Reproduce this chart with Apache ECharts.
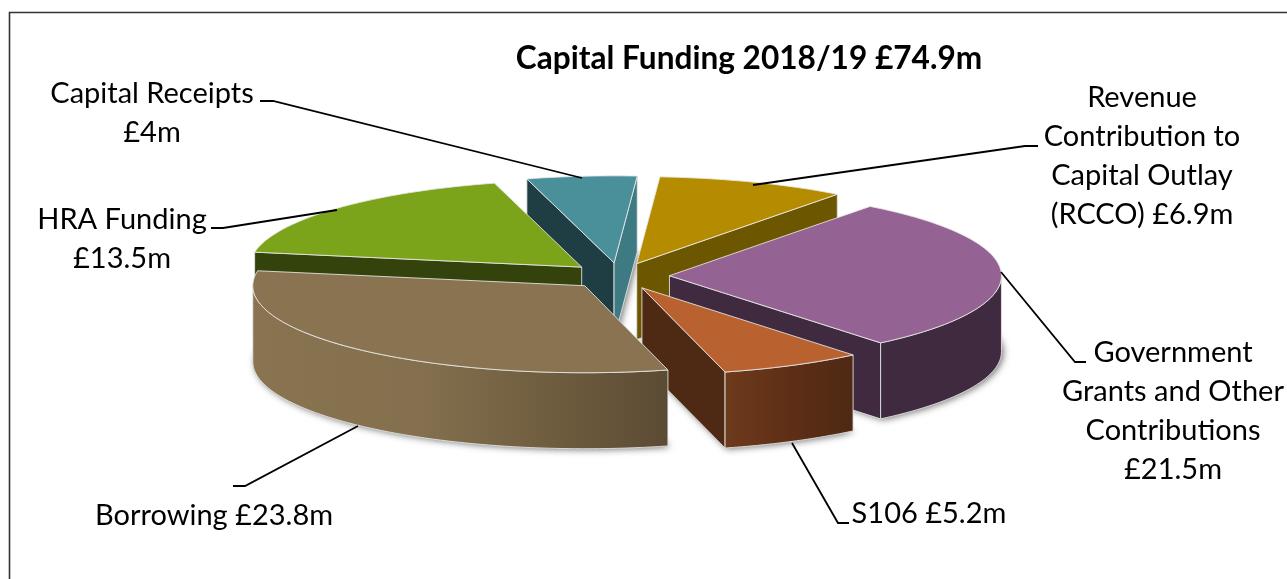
<!DOCTYPE html>
<html>
<head>
<meta charset="utf-8">
<style>html,body{margin:0;padding:0;background:#fff}#chart{width:1287px;height:579px}</style>
<script src="https://cdn.jsdelivr.net/npm/echarts@6/dist/echarts.min.js"></script>
</head>
<body>
<div id="chart"></div>
<script>
// Funding sources, clockwise from the first slice, in £m
const sources = ['RCCO', 'Government', 'S106', 'Borrowing', 'HRA', 'Capital Receipts'];
const amounts = [6.9, 21.5, 5.2, 23.8, 13.5, 4];
const chartTitle = 'Capital Funding 2018/19 £74.9m';
const labelLines = [
  ['Revenue', 'Contribution to', 'Capital Outlay', '(RCCO) £6.9m'],
  ['Government', 'Grants and Other', 'Contributions', '£21.5m'],
  ['S106 £5.2m'],
  ['Borrowing £23.8m'],
  ['HRA Funding', '£13.5m'],
  ['Capital Receipts', '£4m']
];

// Palette: top surface, start-edge wall, end-edge wall, rim gradient
const topColors = ['#B58B00', '#956393', '#B9622F', '#897350', '#7CA41A', '#4A909A'];
const startWall = ['#6D5600', '#402A40', '#4E2913', '#5E4D35', '#34430C', '#1F3E43'];
const endWall = ['#6D5600', '#402A40', '#4E2913', '#5E4D35', '#34430C', '#3D7A82'];
const rimStops = [
  [[0, '#6D5600'], [1, '#6D5600']],
  [[0, '#402A40'], [1, '#402A40']],
  [[0, '#6E3A1C'], [0.5, '#5E2F16'], [1, '#4E2913']],
  [[0, '#897350'], [0.4, '#84704E'], [0.7, '#705E40'], [1, '#5C4B34']],
  [[0, '#34430C'], [1, '#34430C']],
  [[0, '#3D7A82'], [1, '#3D7A82']]
];

// Flattened pie geometry
const pie = { cx: 619, cy: 276, rx: 332, ry: 87, depth: 76, explode: 0.152, firstAngle: 4 };
const paintOrder = [5, 0, 4, 1, 2, 3]; // back to front

// Label anchors (centre x, y of first line) and leader paths
const labelAnchors = [[152, 94], [122, 220], [1142, 98], [1173, 353], [929, 514], [214, 516]];
const labelOrder = [5, 4, 0, 1, 2, 3];
const leaderPaths = [
  [[1038, 146], [1025, 146], [753, 185]],
  [[1001, 272], [1075, 362], [1086, 362]],
  [[792, 443], [838, 523], [849, 523]],
  [[358, 426], [245, 486], [233, 486]],
  [[211, 228], [223, 228], [337, 210]],
  [[260, 101], [273, 101], [582, 178]]
];

const fontFamily = 'Lato, Carlito, sans-serif';
const total = amounts.reduce((a, b) => a + b, 0);

// Start and end angle of every slice, in degrees clockwise from twelve o'clock
const spans = [];
amounts.reduce((acc, v) => {
  const next = acc + v / total * 360;
  spans.push([acc, next]);
  return next;
}, pie.firstAngle);

const rad = d => d * Math.PI / 180;
const apexOf = i => {
  const mid = rad((spans[i][0] + spans[i][1]) / 2);
  return [pie.cx + pie.explode * pie.rx * Math.sin(mid), pie.cy - pie.explode * pie.ry * Math.cos(mid)];
};
const rimPoint = (apex, deg, drop) => [
  apex[0] + pie.rx * Math.sin(rad(deg)),
  apex[1] - pie.ry * Math.cos(rad(deg)) + drop
];
const arc = (apex, a0, a1, drop) => {
  const pts = [];
  const n = Math.max(2, Math.ceil(Math.abs(a1 - a0) / 1.5));
  for (let k = 0; k <= n; k++) pts.push(rimPoint(apex, a0 + (a1 - a0) * k / n, drop));
  return pts;
};
const poly = (points, style, z2) => ({ type: 'polygon', shape: { points }, style, z2 });
const edge = { stroke: 'rgba(232,232,232,0.85)', lineWidth: 1 };

// Soft drop shadow cast by the underside of each slice
function renderShadow(params, api) {
  const i = api.value(0);
  const apex = apexOf(i);
  const [a0, a1] = spans[i];
  const base = [[apex[0], apex[1] + pie.depth]].concat(arc(apex, a0, a1, pie.depth));
  return poly(base, {
    fill: '#8a8a8a', shadowBlur: 7, shadowColor: 'rgba(0,0,0,0.55)', shadowOffsetX: 2, shadowOffsetY: 1
  });
}

// Walls and top surface of each slice
function renderSlice(params, api) {
  const i = api.value(0);
  const apex = apexOf(i);
  const [a0, a1] = spans[i];
  const d = pie.depth;
  const children = [];
  const wall = (deg, fill) => {
    const p = rimPoint(apex, deg, 0);
    children.push(poly([apex, p, [p[0], p[1] + d], [apex[0], apex[1] + d]], Object.assign({ fill }, edge)));
  };
  if (Math.sin(rad(a0)) < 0) wall(a0, startWall[i]);
  if (Math.sin(rad(a1)) > 0) wall(a1, endWall[i]);
  const from = Math.max(a0, 90);
  const to = Math.min(a1, 270);
  if (to > from) {
    const upper = arc(apex, from, to, 0);
    const lower = arc(apex, to, from, d);
    const xs = upper.map(p => p[0]);
    const left = Math.min.apply(null, xs);
    const right = Math.max.apply(null, xs);
    const fill = new echarts.graphic.LinearGradient(left, 0, right, 0,
      rimStops[i].map(s => ({ offset: s[0], color: s[1] })), true);
    children.push(poly(upper.concat(lower), Object.assign({ fill }, edge)));
  }
  children.push(poly([apex].concat(arc(apex, a0, a1, 0)), Object.assign({ fill: topColors[i] }, edge)));
  return { type: 'group', children };
}

const orderedRows = paintOrder.map(i => [i, amounts[i], sources[i]]);

// Text labels, leader lines and the frame around the chart
const graphics = [{
  type: 'polyline', silent: true, z: 5,
  shape: { points: [[9.5, 579], [9.5, 12.5], [1287, 12.5]] },
  style: { stroke: '#333', lineWidth: 1.6, fill: null }
}];
leaderPaths.forEach(points => graphics.push({
  type: 'polyline', silent: true, z: 5, shape: { points },
  style: { stroke: '#000', lineWidth: 1.8, fill: null }
}));
labelOrder.forEach((i, n) => labelLines[i].forEach((text, k) => graphics.push({
  type: 'text', silent: true, z: 5,
  x: labelAnchors[n][0], y: labelAnchors[n][1] + k * 39,
  style: { text, fill: '#000', font: '29px ' + fontFamily, align: 'center', verticalAlign: 'middle' }
})));

const chart = echarts.init(document.getElementById('chart'), null, { renderer: 'canvas' });
chart.setOption({
  animation: false,
  backgroundColor: '#fff',
  title: {
    text: chartTitle, left: 744, top: 38, textAlign: 'center',
    textStyle: { fontFamily, fontWeight: 'bold', fontSize: 31.6, color: '#000' }
  },
  graphic: graphics,
  series: [
    { type: 'custom', name: 'shadow', coordinateSystem: 'none', silent: true, z: 1, renderItem: renderShadow, data: orderedRows },
    { type: 'custom', name: 'Capital Funding', coordinateSystem: 'none', silent: true, z: 2, renderItem: renderSlice, data: orderedRows }
  ]
});
</script>
</body>
</html>
